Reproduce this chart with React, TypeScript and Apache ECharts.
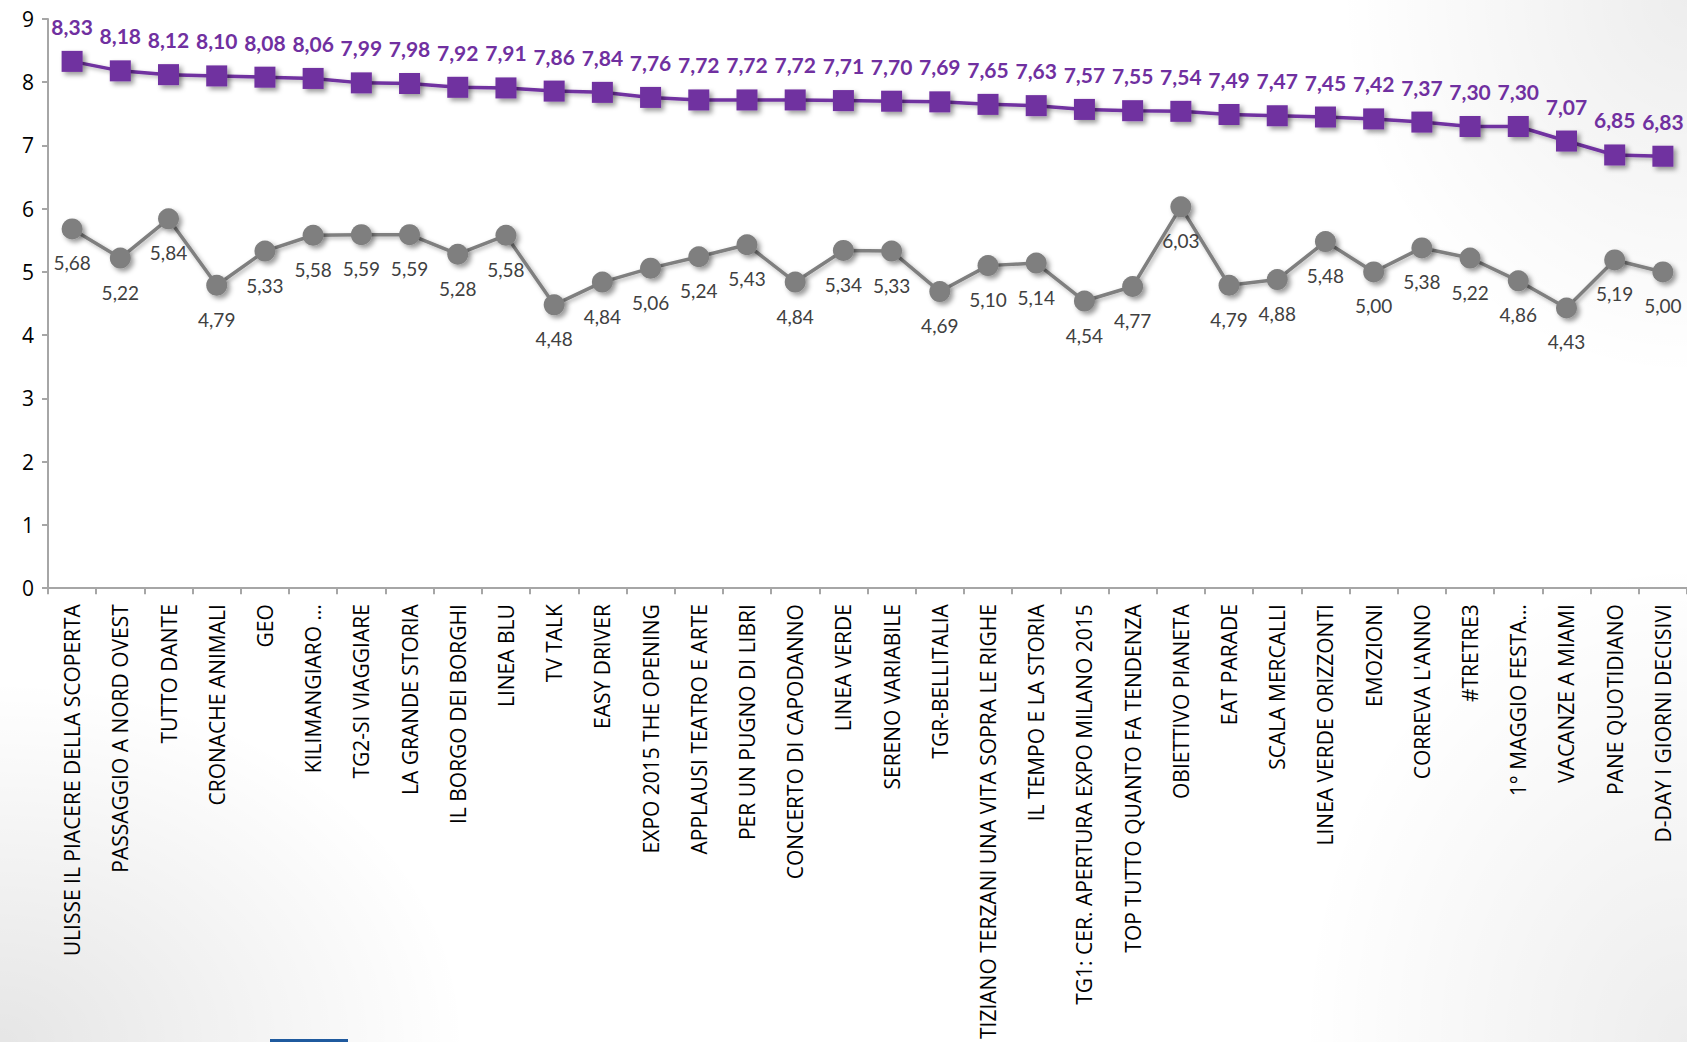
import React, { useEffect, useRef } from "react";
import * as echarts from "echarts";

const categories = [
  "ULISSE IL PIACERE DELLA SCOPERTA",
  "PASSAGGIO A NORD OVEST",
  "TUTTO DANTE",
  "CRONACHE ANIMALI",
  "GEO",
  "KILIMANGIARO …",
  "TG2-SI VIAGGIARE",
  "LA GRANDE STORIA",
  "IL BORGO DEI BORGHI",
  "LINEA BLU",
  "TV TALK",
  "EASY DRIVER",
  "EXPO 2015 THE OPENING",
  "APPLAUSI TEATRO E ARTE",
  "PER UN PUGNO DI LIBRI",
  "CONCERTO DI CAPODANNO",
  "LINEA VERDE",
  "SERENO VARIABILE",
  "TGR-BELLITALIA",
  "TIZIANO TERZANI UNA VITA SOPRA LE RIGHE",
  "IL TEMPO E LA STORIA",
  "TG1: CER. APERTURA EXPO MILANO 2015",
  "TOP TUTTO QUANTO FA TENDENZA",
  "OBIETTIVO PIANETA",
  "EAT PARADE",
  "SCALA MERCALLI",
  "LINEA VERDE ORIZZONTI",
  "EMOZIONI",
  "CORREVA L'ANNO",
  "#TRETRE3",
  "1° MAGGIO FESTA…",
  "VACANZE A MIAMI",
  "PANE QUOTIDIANO",
  "D-DAY I GIORNI DECISIVI",
];

const purpleValues = [
  8.33, 8.18, 8.12, 8.1, 8.08, 8.06, 7.99, 7.98, 7.92, 7.91, 7.86, 7.84, 7.76,
  7.72, 7.72, 7.72, 7.71, 7.7, 7.69, 7.65, 7.63, 7.57, 7.55, 7.54, 7.49, 7.47,
  7.45, 7.42, 7.37, 7.3, 7.3, 7.07, 6.85, 6.83,
];

const grayValues = [
  5.68, 5.22, 5.84, 4.79, 5.33, 5.58, 5.59, 5.59, 5.28, 5.58, 4.48, 4.84, 5.06,
  5.24, 5.43, 4.84, 5.34, 5.33, 4.69, 5.1, 5.14, 4.54, 4.77, 6.03, 4.79, 4.88,
  5.48, 5.0, 5.38, 5.22, 4.86, 4.43, 5.19, 5.0,
];

const yTicks = { min: 0, max: 9, interval: 1 };

const PURPLE = "#7030a0";
const GRAY = "#7f7f7f";
const AXIS = "#a6a6a6";

const fmt = (p: any) => Number(p.value).toFixed(2).replace(".", ",");

export default function App() {
  const ref = useRef<HTMLDivElement>(null);
  useEffect(() => {
    document.body.style.margin = "0";
    const chart = echarts.init(ref.current!, undefined, { renderer: "svg" });
    const shadow = {
      shadowColor: "rgba(0,0,0,0.4)",
      shadowBlur: 5,
      shadowOffsetX: 3,
      shadowOffsetY: 3,
    };
    const lineShadow = {
      shadowColor: "rgba(0,0,0,0.3)",
      shadowBlur: 4,
      shadowOffsetX: 2,
      shadowOffsetY: 2,
    };
    chart.setOption({
      animation: false,
      backgroundColor: "#ffffff",
      textStyle: { fontFamily: "Lato" },
      graphic: [
        {
          type: "rect",
          z: -10,
          silent: true,
          shape: { x: 0, y: 640, width: 520, height: 402 },
          style: {
            fill: new echarts.graphic.RadialGradient(0, 1, 0.9, [
              { offset: 0, color: "rgba(0,0,0,0.10)" },
              { offset: 1, color: "rgba(0,0,0,0)" },
            ]),
          },
        },
        {
          type: "rect",
          z: -10,
          silent: true,
          shape: { x: 1300, y: 0, width: 387, height: 420 },
          style: {
            fill: new echarts.graphic.RadialGradient(1, 0, 0.9, [
              { offset: 0, color: "rgba(0,0,0,0.07)" },
              { offset: 1, color: "rgba(0,0,0,0)" },
            ]),
          },
        },
        {
          type: "rect",
          z: -10,
          silent: true,
          shape: { x: 1300, y: 560, width: 387, height: 482 },
          style: {
            fill: new echarts.graphic.RadialGradient(1, 1, 1, [
              { offset: 0, color: "rgba(0,0,0,0.07)" },
              { offset: 1, color: "rgba(0,0,0,0)" },
            ]),
          },
        },
        {
          type: "rect",
          silent: true,
          shape: { x: 270, y: 1039, width: 78, height: 3 },
          style: { fill: "#1f5a9e" },
        },
      ],
      grid: { left: 48, top: 19, width: 1641, height: 573, containLabel: false },
      xAxis: {
        type: "category",
        data: categories,
        boundaryGap: true,
        axisLine: { show: true, lineStyle: { color: AXIS, width: 2 } },
        axisTick: { show: true, length: 6, lineStyle: { color: AXIS, width: 2 } },
        axisLabel: {
          interval: 0,
          rotate: 90,
          margin: 16,
          color: "#000000",
          fontFamily: "Open Sans",
          fontSize: 21,
        },
        splitLine: { show: false },
      },
      yAxis: {
        type: "value",
        min: yTicks.min,
        max: yTicks.max,
        interval: yTicks.interval,
        axisLine: { show: true, lineStyle: { color: AXIS, width: 2 } },
        axisTick: { show: true, length: 6, lineStyle: { color: AXIS, width: 2 } },
        axisLabel: { color: "#000000", fontSize: 21, margin: 14, fontFamily: "Open Sans" },
        splitLine: { show: false },
      },
      series: [
        {
          type: "line",
          data: grayValues,
          symbol: "circle",
          symbolSize: 21,
          itemStyle: { color: GRAY, ...shadow },
          lineStyle: { color: GRAY, width: 3.5, ...lineShadow },
          label: {
            show: true,
            position: "bottom",
            distance: 14,
            formatter: fmt,
            color: "#404040",
            fontSize: 19,
            fontFamily: "Lato",
          },
          z: 2,
        },
        {
          type: "line",
          data: purpleValues,
          symbol: "rect",
          symbolSize: 21,
          itemStyle: { color: PURPLE, ...shadow },
          lineStyle: { color: PURPLE, width: 3.5, ...lineShadow },
          label: {
            show: true,
            position: "top",
            distance: 14,
            formatter: fmt,
            color: PURPLE,
            fontSize: 21,
            fontWeight: "bold",
            fontFamily: "Lato",
          },
          z: 3,
        },
      ],
    });
    return () => chart.dispose();
  }, []);
  return (
    <div
      ref={ref}
      style={{ position: "fixed", left: 0, top: 0, width: 1687, height: 1042 }}
    />
  );
}
